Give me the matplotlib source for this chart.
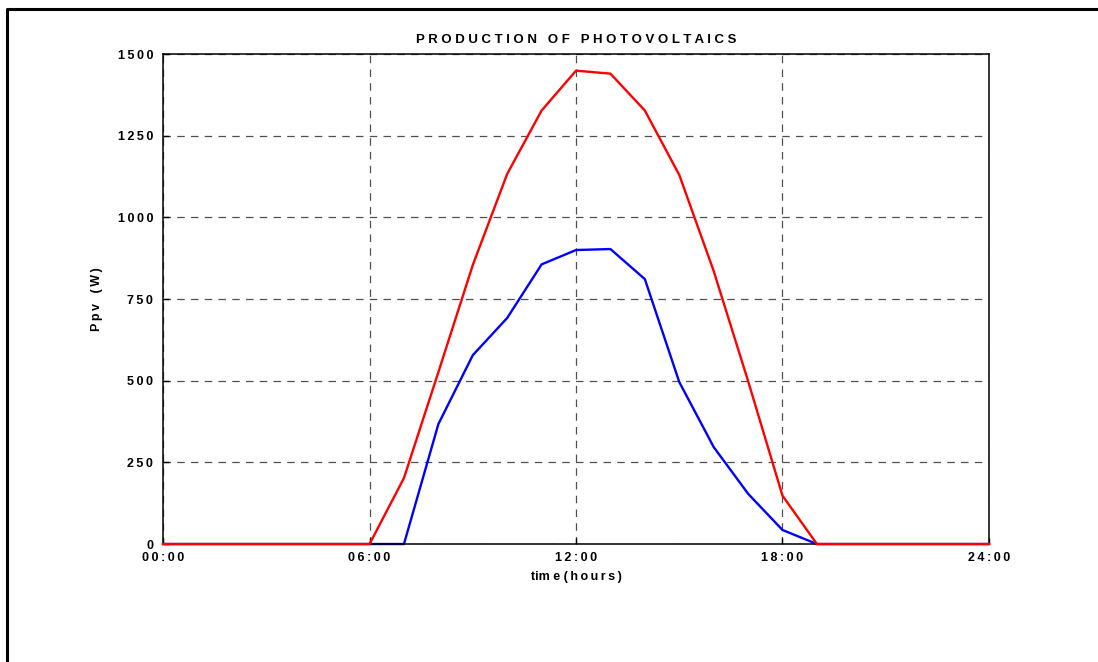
import numpy as np
import matplotlib
matplotlib.use("Agg")
import matplotlib.pyplot as plt
from matplotlib.lines import Line2D

plt.rcParams['font.family'] = ['Liberation Sans', 'DejaVu Sans']
plt.rcParams['font.weight'] = 'bold'

# hourly photovoltaic output (W)
hours = list(range(25))
ppv_red = [0, 0, 0, 0, 0, 0, 0, 202, 526, 854, 1133, 1327, 1449, 1440, 1327,
           1130, 836, 499, 148, 0, 0, 0, 0, 0, 0]
ppv_blue = [0, 0, 0, 0, 0, 0, 0, 0, 367, 578, 692, 856, 900, 903, 811,
            496, 297, 154, 43, 0, 0, 0, 0, 0, 0]

xticks = [0, 6, 12, 18, 24]
xtick_labels = ["00:00", "06:00", "12:00", "18:00", "24:00"]
yticks = [0, 250, 500, 750, 1000, 1250, 1500]

TS = "\u2009"


def spaced(s, sep=TS):
    return sep.join(s)


fig = plt.figure(figsize=(10.98, 6.62), dpi=100)
ax = fig.add_axes([0.1485, 0.1782, 0.9007 - 0.1485, 0.9184 - 0.1782])

ax.plot(hours, ppv_red, color='#ff0000', lw=1.7, zorder=3, clip_on=False)
ax.plot(hours, ppv_blue, color='#0000ff', lw=1.7, zorder=2, clip_on=False)

ax.set_xlim(0, 24)
ax.set_ylim(0, 1500)
ax.set_xticks(xticks)
ax.set_xticklabels([spaced(t) for t in xtick_labels])
ax.set_yticks(yticks)
ax.set_yticklabels([spaced(str(t)) for t in yticks])
ax.tick_params(direction='in', length=4, width=1, labelsize=9)
ax.tick_params(axis='x', pad=6)
ax.tick_params(axis='y', pad=7)
for lab in ax.get_xticklabels() + ax.get_yticklabels():
    lab.set_fontweight('bold')

ax.grid(True, color='#505050', linestyle=(0, (6, 5)), linewidth=0.9)
for sp in ax.spines.values():
    sp.set_linewidth(1.1)

ax.set_title("   ".join(" ".join(w) for w in "PRODUCTION OF PHOTOVOLTAICS".split()),
             fontsize=9.5, fontweight='bold', pad=8)
ax.set_xlabel("tim e " + spaced("(hours)"),
              fontsize=9, fontweight='bold', labelpad=5)
ax.set_ylabel(spaced("Ppv") + "   " + spaced("(W)"), fontsize=9,
              fontweight='bold', labelpad=11)

# outer frame
fig.add_artist(Line2D([7 / 1098, 7 / 1098, 1], [0, 1 - 9 / 662, 1 - 9 / 662],
                      transform=fig.transFigure, color='black', lw=2.2))

fig.savefig("out.png", dpi=100)
